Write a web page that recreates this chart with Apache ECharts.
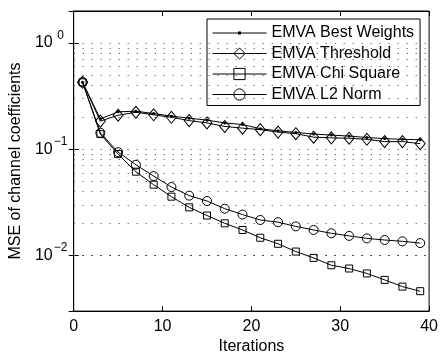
<!DOCTYPE html>
<html>
<head>
<meta charset="utf-8">
<script src="https://cdn.jsdelivr.net/npm/echarts@6/dist/echarts.min.js"></script>
<style>
  html, body { margin: 0; padding: 0; background: #fff; }
  #chart { width: 441px; height: 360px; }
</style>
</head>
<body>
<div id="chart"></div>
<script>
// iterations (odd steps)
const iterations = [1, 3, 5, 7, 9, 11, 13, 15, 17, 19, 21, 23, 25, 27, 29, 31, 33, 35, 37, 39];
const bestWeights = [0.427, 0.193, 0.225, 0.228, 0.217, 0.205, 0.196, 0.188, 0.177, 0.171,
    0.156, 0.149, 0.144, 0.139, 0.136, 0.133, 0.129, 0.126, 0.124, 0.123];
const threshold = [0.427, 0.184, 0.209, 0.223, 0.211, 0.2, 0.186, 0.177, 0.164, 0.158,
    0.153, 0.145, 0.14, 0.13, 0.128, 0.127, 0.124, 0.118, 0.118, 0.113];
const chiSquare = [0.427, 0.139, 0.09, 0.0615, 0.0464, 0.0358, 0.0284, 0.0238, 0.0201, 0.0174,
    0.0147, 0.0129, 0.0109, 0.0095, 0.0081, 0.00755, 0.00678, 0.0059, 0.0051, 0.00462];
const l2Norm = [0.427, 0.143, 0.094, 0.0715, 0.056, 0.0441, 0.0366, 0.0326, 0.0276, 0.0243,
    0.0216, 0.0206, 0.0188, 0.0174, 0.0162, 0.0153, 0.0145, 0.014, 0.0136, 0.0131];
const seriesNames = ['EMVA Best Weights', 'EMVA Threshold', 'EMVA Chi Square', 'EMVA L2 Norm'];
// dotted grid lines (log minor + major)
const gridValues = [0.004, 0.005, 0.006, 0.007, 0.008, 0.009, 0.01,
    0.02, 0.03, 0.04, 0.05, 0.06, 0.07, 0.08, 0.09, 0.1,
    0.2, 0.3, 0.4, 0.5, 0.6, 0.7, 0.8, 0.9, 1];

const font = 'Liberation Sans, Arial, Helvetica, sans-serif';
const pairs = (ys) => iterations.map((x, i) => [x, ys[i]]);

const mychart = echarts.init(document.getElementById('chart'), null, { renderer: 'canvas' });

const hollow = { color: 'transparent', borderColor: '#000', borderWidth: 1 };
const line = { color: '#000', width: 1 };

const option = {
    animation: false,
    backgroundColor: '#fff',
    textStyle: { fontFamily: font, color: '#000' },
    grid: {
        left: 72, right: 10, top: 11, bottom: 48,
        show: true, borderColor: '#000', borderWidth: 1, backgroundColor: '#fff'
    },
    legend: {
        orient: 'vertical',
        left: 207, top: 19,
        padding: [6, 6, 3, 5],
        itemGap: 4.5,
        itemWidth: 54,
        itemHeight: 14,
        backgroundColor: '#fff',
        borderColor: '#000',
        borderWidth: 1,
        lineStyle: { width: 1, color: '#000' },
        itemStyle: { borderWidth: 1 },
        textStyle: { fontFamily: font, fontSize: 16, lineHeight: 16, color: '#000' },
        data: [
            { name: seriesNames[0], icon: 'path://M0,2.5h54v1h-54z M25.5,1.5h3v3h-3z' },
            { name: seriesNames[1] },
            { name: seriesNames[2] },
            { name: seriesNames[3] }
        ]
    },
    xAxis: [{
        type: 'value', min: 0, max: 40, interval: 10,
        name: 'Iterations', nameLocation: 'middle', nameGap: 26,
        nameTextStyle: { fontFamily: font, fontSize: 16, color: '#000' },
        axisLine: { lineStyle: { color: '#000' } },
        axisTick: { inside: true, length: 5, lineStyle: { color: '#000' } },
        axisLabel: { fontFamily: font, fontSize: 16, color: '#000', margin: 7 },
        splitLine: { show: false }
    }, {
        type: 'value', min: 0, max: 40, interval: 10, position: 'top',
        axisLine: { lineStyle: { color: '#000' } },
        axisTick: { inside: true, length: 5, lineStyle: { color: '#000' } },
        axisLabel: { show: false },
        splitLine: { show: false }
    }],
    yAxis: [{
        type: 'log', logBase: 10, min: 0.003, max: 2,
        name: 'MSE of channel coefficients', nameLocation: 'middle', nameGap: 45,
        nameTextStyle: { fontFamily: font, fontSize: 16, color: '#000' },
        axisLine: { lineStyle: { color: '#000' } },
        axisTick: { inside: true, length: 5, lineStyle: { color: '#000' } },
        axisLabel: {
            margin: 6,
            formatter: function (v) {
                const e = Math.log10(v);
                const r = Math.round(e);
                if (Math.abs(e - r) > 1e-6) return '';
                const exp = r < 0 ? '\u2212' + (-r) : String(r);
                return '{b|10}{s|' + exp + '}';
            },
            rich: {
                b: { fontFamily: font, fontSize: 16, color: '#000', verticalAlign: 'middle' },
                s: {
                    fontFamily: font, fontSize: 12, color: '#000', verticalAlign: 'middle',
                    width: 14, align: 'left', padding: [0, 0, 15, 1]
                }
            }
        },
        splitLine: { show: false }
    }, {
        type: 'log', logBase: 10, min: 0.003, max: 2, position: 'right',
        axisLine: { lineStyle: { color: '#000' } },
        axisTick: { inside: true, length: 5, lineStyle: { color: '#000' } },
        axisLabel: { show: false },
        splitLine: { show: false }
    }],
    series: [
        {
            type: 'line', silent: true, data: [],
            markLine: {
                silent: true, symbol: 'none', animation: false,
                label: { show: false },
                lineStyle: { color: '#444', width: 1, type: [1, 8] },
                data: gridValues.map(v => ({ yAxis: v }))
            }
        },
        {
            name: seriesNames[0], type: 'line', data: pairs(bestWeights),
            symbol: 'circle', symbolSize: 3,
            itemStyle: { color: '#000' }, lineStyle: line
        },
        {
            name: seriesNames[1], type: 'line', data: pairs(threshold),
            symbol: 'diamond', symbolSize: [10, 12],
            itemStyle: hollow, lineStyle: line
        },
        {
            name: seriesNames[2], type: 'line', data: pairs(chiSquare),
            symbol: 'rect', symbolSize: 7,
            itemStyle: hollow, lineStyle: line
        },
        {
            name: seriesNames[3], type: 'line', data: pairs(l2Norm),
            symbol: 'circle', symbolSize: 9,
            itemStyle: hollow, lineStyle: line
        }
    ]
};

mychart.setOption(option, true);
</script>
</body>
</html>
